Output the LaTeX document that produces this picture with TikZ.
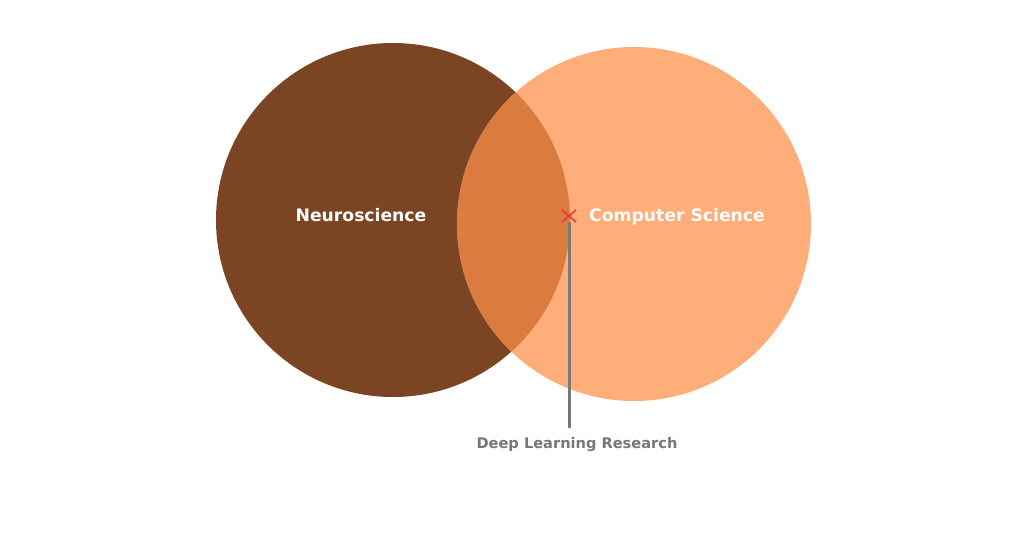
\documentclass[tikz,border=0pt]{standalone}
\usepackage{fontspec}
\setmainfont{DejaVu Sans}
\usetikzlibrary{calc}
\definecolor{neuro}{HTML}{7B4422}
\definecolor{comp}{HTML}{FFAE7A}
\definecolor{both}{HTML}{DA7B40}
\definecolor{crossred}{HTML}{EE3B3B}
\definecolor{leader}{HTML}{777777}
\tikzset{
  setlabel/.style={text=white, font=\bfseries\fontsize{17.2}{20}\selectfont, inner sep=0pt},
  notelabel/.style={text=leader, font=\bfseries\fontsize{14.6}{17}\selectfont, inner sep=0pt},
  crossmark/.style={draw=crossred, line width=1.8pt},
}
\begin{document}
\begin{tikzpicture}[x=1pt,y=-1pt]
\useasboundingbox[fill=white] (0,0) rectangle (1024,536);
\fill[neuro] (393,220) circle (177);
\fill[comp] (634,224) circle (177);
\begin{scope}
  \clip (393,220) circle (177);
  \fill[both] (634,224) circle (177);
\end{scope}
\node[setlabel] (neuro) at (361,215) {Neuroscience};
\node[setlabel] (cs) at (677,217) {Computer Science};
\coordinate (x) at (569,216);
\draw[crossmark] ($(x)+(-7,-6)$) -- ($(x)+(7,6)$);
\draw[crossmark] ($(x)+(-7,6)$) -- ($(x)+(7,-6)$);
\node[notelabel] (dl) at (577,445) {Deep Learning Research};
\coordinate (lend) at (569,428);
\draw[leader, line width=3pt] (569,222) -- (lend);
\end{tikzpicture}
\end{document}
